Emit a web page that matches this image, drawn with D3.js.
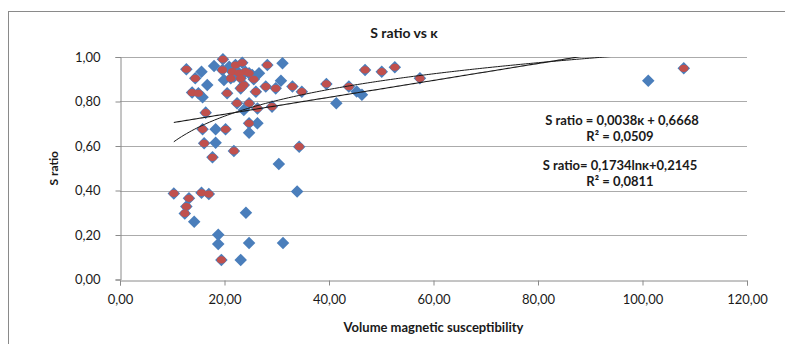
<!DOCTYPE html>
<html>
<head>
<meta charset="utf-8">
<script src="https://cdn.jsdelivr.net/npm/d3@7"></script>
<style>
  html, body { margin: 0; padding: 0; background: #ffffff; }
  svg { display: block; }
  text { font-family: Lato, "Open Sans", sans-serif; fill: #1a1a1a; }
</style>
</head>
<body>
<svg id="chart" width="785" height="344"></svg>
<script>
// ---- data ----
const kappa = [
  12.7, 15.6, 14.4, 16.7, 13.8, 15.0, 15.8, 20.5, 19.7, 18.0,
  19.6, 20.9, 22.1, 23.4, 24.0, 21.5, 22.8, 24.7, 21.2, 23.1,
  25.3, 26.6, 21.8, 19.9, 23.7, 23.1, 25.6, 28.2, 31.1, 26.0,
  27.9, 29.8, 30.8, 33.0, 34.8, 39.5, 41.4, 43.8, 45.3, 46.3,
  46.9, 50.1, 52.6, 57.4, 101.1, 107.9,
  22.4, 24.7, 23.7, 26.3, 29.1, 16.4, 24.7, 26.3, 15.8, 18.3,
  20.2, 24.7, 16.1, 18.3, 21.8, 17.7, 34.3, 30.4,
  10.3, 13.2, 15.6, 17.0, 12.7, 12.4, 14.2, 33.9, 24.1, 18.8,
  18.8, 24.7, 31.2, 19.4, 23.1
];
const sRatio = [
  0.945, 0.934, 0.904, 0.874, 0.840, 0.837, 0.819, 0.837, 0.990, 0.960,
  0.942, 0.956, 0.964, 0.974, 0.934, 0.934, 0.927, 0.927, 0.904, 0.904,
  0.919, 0.927, 0.911, 0.897, 0.874, 0.859, 0.900, 0.964, 0.972, 0.844,
  0.867, 0.859, 0.893, 0.867, 0.844, 0.879, 0.792, 0.867, 0.845, 0.830,
  0.942, 0.934, 0.954, 0.904, 0.893, 0.949,
  0.792, 0.792, 0.762, 0.769, 0.777, 0.750, 0.702, 0.702, 0.675, 0.675,
  0.675, 0.660, 0.612, 0.615, 0.578, 0.549, 0.597, 0.519,
  0.387, 0.365, 0.390, 0.384, 0.328, 0.297, 0.260, 0.396, 0.300, 0.201,
  0.160, 0.164, 0.164, 0.088, 0.088
];
// 1 = point also carries the red marker of the second series
const redMarked = [
  1, 0, 1, 0, 1, 1, 0, 1, 1, 0,
  1, 0, 1, 1, 1, 1, 1, 1, 1, 1,
  0, 0, 0, 0, 1, 1, 1, 1, 0, 1,
  1, 1, 0, 1, 1, 1, 0, 1, 0, 0,
  1, 1, 1, 1, 0, 1,
  1, 1, 0, 1, 1, 1, 1, 0, 1, 0,
  1, 0, 1, 0, 1, 1, 1, 0,
  1, 1, 1, 1, 1, 1, 0, 0, 0, 0,
  0, 0, 0, 1, 0
];
const xTicks = [0, 20, 40, 60, 80, 100, 120];
const yTicks = [0, 0.2, 0.4, 0.6, 0.8, 1.0];
// trendline coefficients as printed on the chart
const linearFit = { slope: 0.0038, intercept: 0.6668, r2: "0,0509" };
const logFit = { coef: 0.1734, intercept: 0.2145, r2: "0,0811" };
const titleText = "S ratio vs \u03ba";
const xTitle = "Volume magnetic susceptibility";
const yTitle = "S ratio";
const eqLinear = "S ratio = 0,0038\u03ba + 0,6668";
const eqLog = "S ratio= 0,1734ln\u03ba+0,2145";

// ---- drawing ----
const svg = d3.select("#chart");
const fmt = v => d3.format(".2f")(v).replace(".", ",");

const x = d3.scaleLinear().domain([0, 120]).range([120, 747]);
const y = d3.scaleLinear().domain([0, 1]).range([279.5, 57]);

// chart border (only left/top visible in the crop)
svg.append("rect").attr("x", 8.5).attr("y", 11.5).attr("width", 820).attr("height", 400)
  .attr("fill", "none").attr("stroke", "#8a8a8a").attr("stroke-width", 1);

// gridlines
svg.append("g").selectAll("line").data(yTicks.filter(d => d > 0)).join("line")
  .attr("x1", x(0)).attr("x2", x(120))
  .attr("y1", d => Math.round(y(d)) + 0.5).attr("y2", d => Math.round(y(d)) + 0.5)
  .attr("stroke", "#ababab").attr("stroke-width", 1);

// axes
const yAxis = d3.axisLeft(y).tickValues(yTicks).tickFormat(fmt).tickSize(5).tickPadding(15);
const xAxis = d3.axisBottom(x).tickValues(xTicks).tickFormat(fmt).tickSize(5).tickPadding(9);

const gy = svg.append("g").attr("transform", `translate(${x(0) + 0.5},0)`).call(yAxis);
const gx = svg.append("g").attr("transform", `translate(0,${Math.round(y(0)) + 0.5})`).call(xAxis);
[gx, gy].forEach(g => {
  g.select(".domain").attr("stroke", "#8a8a8a");
  g.selectAll(".tick line").attr("stroke", "#8a8a8a");
  g.selectAll(".tick text").style("font-size", "13px").attr("fill", "#1a1a1a")
    .style("font-family", "Lato, 'Open Sans', sans-serif");
});

// clip for trendlines
svg.append("clipPath").attr("id", "plotclip").append("rect")
  .attr("x", x(0)).attr("y", y(1)).attr("width", x(120) - x(0)).attr("height", y(0) - y(1));

// points: blue diamonds (series 1)
const pts = kappa.map((k, i) => ({ k, s: sRatio[i], red: redMarked[i] === 1 }));
const diamond = d3.symbol().type(d3.symbolDiamond2).size(100);
svg.append("g").selectAll("path").data(pts).join("path")
  .attr("d", diamond)
  .attr("transform", d => `translate(${x(d.k)},${y(d.s)})`)
  .attr("fill", "#4a7ebb");

// red markers (series 2)
svg.append("g").selectAll("ellipse").data(pts.filter(d => d.red)).join("ellipse")
  .attr("cx", d => x(d.k)).attr("cy", d => y(d.s))
  .attr("rx", 4.6).attr("ry", 3.6)
  .attr("fill", "#c0504d");

// trendlines across the data's x range
const kMin = d3.min(kappa), kMax = d3.max(kappa);
const xs = d3.range(0, 201).map(i => kMin + (kMax - kMin) * i / 200);
const line = d3.line().x(d => x(d[0])).y(d => y(d[1]));
const tg = svg.append("g").attr("clip-path", "url(#plotclip)");
tg.append("path")
  .attr("d", line(xs.map(k => [k, linearFit.slope * k + linearFit.intercept])))
  .attr("fill", "none").attr("stroke", "#1a1a1a").attr("stroke-width", 1.1);
tg.append("path")
  .attr("d", line(xs.map(k => [k, logFit.coef * Math.log(k) + logFit.intercept])))
  .attr("fill", "none").attr("stroke", "#1a1a1a").attr("stroke-width", 1);

// titles
svg.append("text").attr("x", 404).attr("y", 38).attr("text-anchor", "middle")
  .style("font-size", "14px").style("font-weight", "bold").text(titleText);
svg.append("text").attr("x", (x(0) + x(120)) / 2).attr("y", 332).attr("text-anchor", "middle")
  .style("font-size", "13px").style("font-weight", "bold").text(xTitle);
svg.append("text").attr("transform", `translate(58,${(y(0) + y(1)) / 2}) rotate(-90)`)
  .attr("text-anchor", "middle")
  .style("font-size", "12px").style("font-weight", "bold").text(yTitle);

// equation labels
const eq = svg.append("g").style("font-size", "13px").style("font-weight", "bold")
  .attr("text-anchor", "middle");
eq.append("text").attr("x", 622).attr("y", 125).text(eqLinear);
eq.append("text").attr("x", 620).attr("y", 141).text("R\u00b2 = " + linearFit.r2);
eq.append("text").attr("x", 620).attr("y", 170).text(eqLog);
eq.append("text").attr("x", 620).attr("y", 186).text("R\u00b2 = " + logFit.r2);
</script>
</body>
</html>
